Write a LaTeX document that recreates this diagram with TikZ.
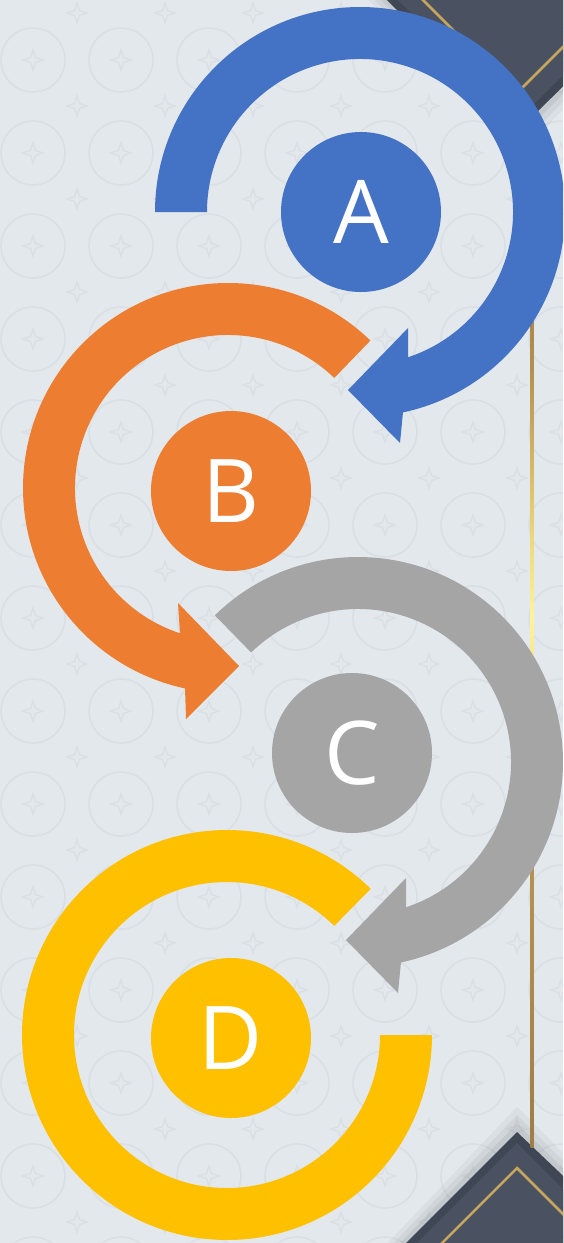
\documentclass[tikz,border=0pt]{standalone}
\usepackage{fontspec}
\newfontfamily\lettf{Open Sans}
\definecolor{bgc}{HTML}{E3E8EC}
\definecolor{patc}{HTML}{D9DFE4}
\definecolor{cblue}{HTML}{4472C4}
\definecolor{corange}{HTML}{ED7D31}
\definecolor{cgray}{HTML}{A5A5A5}
\definecolor{cyellow}{HTML}{FFC000}
\definecolor{darkc}{HTML}{4A5262}
\definecolor{darkedge}{HTML}{3F4654}
\definecolor{goldc}{HTML}{C6A55E}
\pgfdeclareverticalshading{goldline}{3pt}{%
  rgb(0pt)=(0.62,0.49,0.28);
  rgb(300pt)=(0.72,0.58,0.32);
  rgb(470pt)=(0.96,0.89,0.52);
  rgb(530pt)=(0.99,0.95,0.62);
  rgb(610pt)=(0.93,0.84,0.48);
  rgb(780pt)=(0.70,0.56,0.31);
  rgb(1029pt)=(0.55,0.42,0.25)}
\newcommand{\acring}[3]{%
  \fill[#3] ([shift={#1}]#2:205) arc[start angle=#2, end angle=437.9, radius=205]
    -- ([shift={#1}]40,231) -- ([shift={#1}]-12,178) -- ([shift={#1}]48,116)
    -- ([shift={#1}]431.7:153) arc[start angle=431.7, end angle=#2, radius=153] -- cycle;}
\newcommand{\bring}[3]{%
  \fill[#3] ([shift={#1}]#2:205) arc[start angle=#2, end angle=-257.9, radius=205]
    -- ([shift={#1}]-42,231) -- ([shift={#1}]11,178) -- ([shift={#1}]-50,115)
    -- ([shift={#1}]-251.7:153) arc[start angle=-251.7, end angle=#2, radius=153] -- cycle;}
\newcommand{\pstar}[1]{%
  \draw[patc, line width=1.4] ([shift={#1}]0,-10) -- ([shift={#1}]2.5,-2.5) -- ([shift={#1}]10,0) -- ([shift={#1}]2.5,2.5)
    -- ([shift={#1}]0,10) -- ([shift={#1}]-2.5,2.5) -- ([shift={#1}]-10,0) -- ([shift={#1}]-2.5,-2.5) -- cycle;}
\tikzset{
  letter/.style={circle, minimum size=160, inner sep=0, text=white,
    font=\lettf\fontsize{88}{88}\selectfont}
}
\begin{document}
\begin{tikzpicture}[x=1pt, y=-1pt]
\useasboundingbox (0,0) rectangle (563,1243);
\clip (0,0) rectangle (563,1243);
\fill[bgc] (0,0) rectangle (563,1243);
% background pattern
\foreach \i in {0,...,6} {
  \foreach \j in {0,...,13} {
    \draw[patc, line width=1.6] (33+88*\i, 60+93*\j) circle[radius=32];
    \pstar{(33+88*\i, 60+93*\j)}
    \pstar{(77+88*\i, 13+93*\j)}
  }
}
% corner shadows
\foreach \o/\op in {18/0.035, 12/0.045, 6/0.055} {
  \fill[black, opacity=\op] (518,131+1.41*\o) -- (380-\o,-7) -- (657+\o,-7) -- cycle;
  \fill[black, opacity=\op] (517,1132-1.41*\o) -- (400-\o,1249) -- (640+\o,1249) -- cycle;
}
% top-right corner
\fill[darkedge] (518,131) -- (380,-7) -- (657,-7) -- cycle;
\fill[darkc] (518,120) -- (392,-6) -- (644,-6) -- cycle;
\draw[goldc, line width=2.5] (418,-5) -- (516.5,93.5) -- (620,-10);
% bottom-right corner
\fill[darkedge] (517,1132) -- (400,1249) -- (640,1249) -- cycle;
\fill[darkc] (517,1143) -- (412,1248) -- (622,1248) -- cycle;
\draw[goldc, line width=2.5] (427,1258) -- (517,1168) -- (617,1268);
% vertical gold line
\begin{scope}
  \clip (530.5,118) rectangle (533.5,1147);
  \node[inner sep=0, anchor=north west] at (530.5,118) {\pgfuseshading{goldline}};
\end{scope}
% rings
\acring{(360,212)}{180}{cblue}
\bring{(228,488)}{-46}{corange}
\acring{(358,762)}{225.7}{cgray}
\fill[cyellow] ([shift={(227,1035)}]-45.5:205) arc[start angle=-45.5, end angle=-360, radius=205]
  -- ([shift={(227,1035)}]0:153) arc[start angle=-360, end angle=-45.5, radius=153] -- cycle;
% centre circles
\node[letter, fill=cblue] (A) at (361,212) {A};
\node[letter, fill=corange] (B) at (231,491) {B};
\node[letter, fill=cgray] (C) at (352,753) {C};
\node[letter, fill=cyellow] (D) at (231,1038) {D};
\end{tikzpicture}
\end{document}
